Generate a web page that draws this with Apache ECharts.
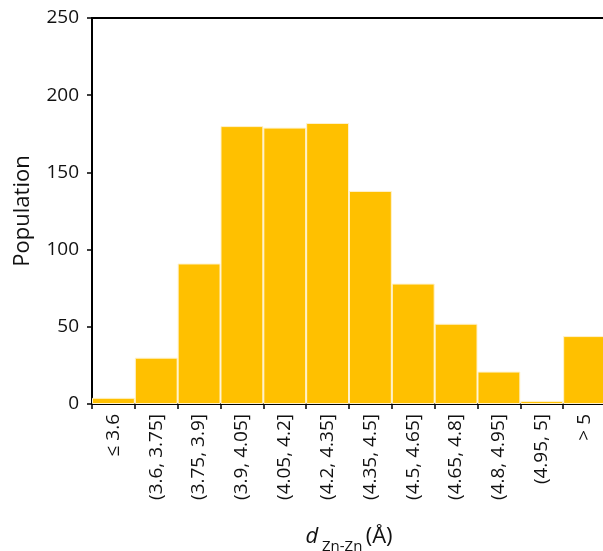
<!DOCTYPE html>
<html><head><meta charset="utf-8">
<script src="https://cdn.jsdelivr.net/npm/echarts@6/dist/echarts.min.js"></script>
<style>html,body{margin:0;padding:0;background:#fff}#c{width:603px;height:551px}</style>
</head><body><div id="c"></div>
<script>
var categories = ['≤ 3.6','(3.6, 3.75]','(3.75, 3.9]','(3.9, 4.05]','(4.05, 4.2]','(4.2, 4.35]','(4.35, 4.5]','(4.5, 4.65]','(4.65, 4.8]','(4.8, 4.95]','(4.95, 5]','> 5'];
var population = [4, 30, 91, 180, 179, 182, 138, 78, 52, 21, 2, 44];
var yTicks = {min: 0, max: 250, interval: 50};

var chart = echarts.init(document.getElementById('c'));
var font = '"Open Sans", "Noto Sans", sans-serif';
chart.setOption({
  animation: false,
  grid: {left: 92, top: 18, bottom: 147, right: -3, containLabel: false, outerBoundsMode: 'none',
         show: true, borderColor: '#000', borderWidth: 2, backgroundColor: 'transparent'},
  xAxis: {
    type: 'category', data: categories,
    axisLine: {lineStyle: {color: '#000', width: 2}},
    axisTick: {show: true, length: 5, lineStyle: {color: '#000', width: 1.5}},
    axisLabel: {rotate: 90, fontSize: 19, color: '#111', fontFamily: font, margin: 10, interval: 0, hideOverlap: false},
    name: '{i|d}{s| Zn-Zn} {n|(Å)}', nameLocation: 'middle', nameGap: 122,
    nameTextStyle: {rich: {
      i: {fontStyle: 'italic', fontSize: 22, fontFamily: font, color: '#111', verticalAlign: 'bottom'},
      s: {fontSize: 15, fontFamily: font, color: '#111', verticalAlign: 'bottom', padding: [0,0,-6,0]},
      n: {fontSize: 22, fontFamily: font, color: '#111', verticalAlign: 'bottom'}
    }}
  },
  yAxis: {
    type: 'value', min: yTicks.min, max: yTicks.max, interval: yTicks.interval,
    splitLine: {show: false},
    axisLine: {show: true, lineStyle: {color: '#000', width: 2}},
    axisTick: {show: true, length: 5, lineStyle: {color: '#000', width: 1.5}},
    axisLabel: {fontSize: 19, color: '#111', fontFamily: font, margin: 13},
    name: 'Population', nameLocation: 'middle', nameGap: 58,
    nameTextStyle: {fontSize: 22, color: '#111', fontFamily: font}
  },
  series: [{
    type: 'bar', data: population, barCategoryGap: 0,
    itemStyle: {color: '#FFC000', borderColor: '#FFF2CC', borderWidth: 1}
  }]
});
</script></body></html>
